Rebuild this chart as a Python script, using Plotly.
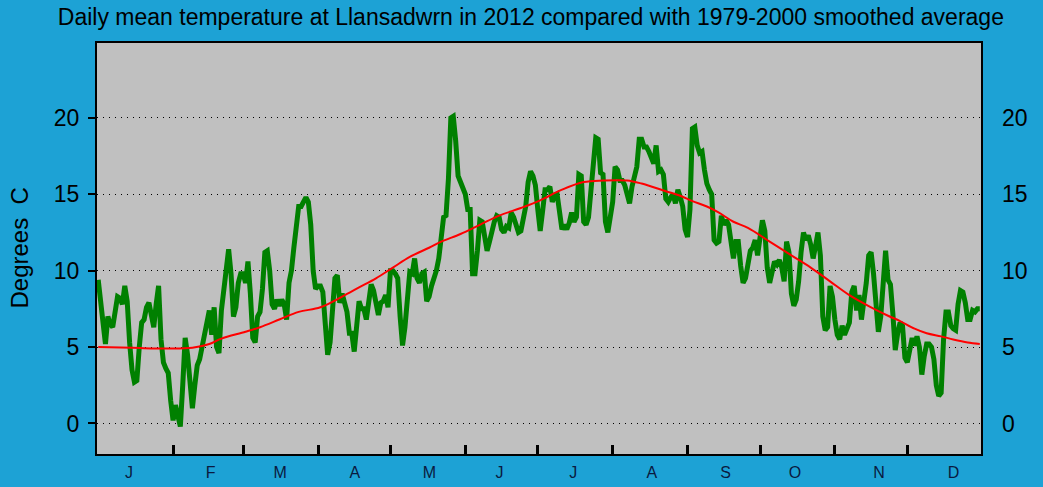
import plotly.graph_objects as go

# ---------------- data ----------------
days = list(range(1, 367))

temps_2012 = [
    # Jan 1 - Feb 16 (d1-47)
    9.4, 8.0, 6.0, 5.2, 7.0, 6.5, 6.3, 7.2, 8.3, 8.2,
    7.8, 9.0, 8.0, 5.3, 3.5, 2.7, 2.8, 5.0, 6.6, 6.8,
    7.6, 7.9, 7.0, 6.3, 7.8, 9.0, 5.5, 4.0, 3.6, 3.3,
    1.5, 0.2, 1.2, 0.5, -0.2, 2.5, 5.6, 4.5, 2.5, 1.0,
    2.5, 3.8, 4.2, 5.0, 6.0, 7.0, 7.4,
    # d48-92
    5.8, 7.6, 5.0, 4.6, 7.4, 8.8, 10.3, 11.4, 9.8, 7.0,
    7.6, 9.2, 9.8, 9.8, 9.2, 10.6, 8.5, 5.6, 5.3, 7.0,
    7.3, 8.8, 11.2, 11.3, 10.0, 7.8, 7.5, 8.1, 7.7, 8.1,
    7.8, 6.8, 9.2, 10.0, 11.5, 13.3, 14.2, 14.2, 14.5, 14.8,
    14.5, 13.0, 10.0, 8.8, 9.0,
    # d93-138
    9.0, 8.6, 6.0, 4.5, 5.3, 7.0, 9.5, 9.7, 7.9, 8.5,
    7.7, 7.3, 5.9, 5.9, 4.7, 6.8, 8.0, 7.5, 7.5, 6.8,
    8.0, 9.1, 8.7, 7.8, 7.1, 7.9, 8.0, 8.4, 7.6, 10.0,
    10.0, 9.8, 9.5, 7.0, 5.1, 6.3, 8.5, 9.9, 9.8, 10.8,
    9.5, 9.2, 9.8, 9.9, 8.0, 8.3,
    # d139-184
    9.0, 9.4, 10.0, 10.8, 12.0, 13.5, 13.6, 16.0, 20.0, 20.1,
    18.5, 16.2, 15.8, 15.3, 15.0, 14.0, 14.0, 9.8, 9.8, 11.3,
    13.3, 13.2, 12.0, 11.3, 11.9, 12.6, 13.2, 13.6, 13.5, 12.7,
    12.5, 12.9, 12.8, 13.8, 13.5, 13.0, 12.5, 12.6, 13.4, 14.2,
    15.8, 16.5, 16.2, 15.6, 14.0, 12.6,
    # d185-229
    13.9, 15.3, 15.3, 15.5, 14.5, 14.9, 15.0, 14.0, 12.7, 13.0,
    12.7, 13.1, 13.8, 13.2, 13.5, 16.3, 16.2, 13.2, 13.0, 13.5,
    15.3, 17.4, 18.7, 18.6, 16.4, 16.3, 13.2, 12.5, 13.3, 14.5,
    16.8, 16.6, 15.9, 15.9, 15.6, 15.0, 14.4, 15.5, 16.2, 16.8,
    18.6, 18.6, 18.1, 18.1, 17.8,
    # d230-275
    17.4, 17.0, 18.2, 16.5, 16.6, 16.3, 14.7, 14.5, 14.8, 15.0,
    14.4, 15.3, 14.8, 14.2, 12.7, 12.2, 14.0, 19.3, 19.4, 18.2,
    17.7, 17.8, 16.6, 15.7, 15.3, 15.0, 12.0, 11.8, 11.9, 13.6,
    13.0, 13.3, 13.0, 11.6, 10.8, 11.9, 11.9, 10.3, 9.2, 9.5,
    10.5, 11.3, 11.5, 12.0, 11.0, 12.4,
    # d276-320
    13.3, 12.6, 10.2, 9.2, 9.8, 10.6, 10.4, 10.7, 10.2, 9.3,
    11.9, 11.2, 8.5, 7.7, 8.1, 9.3, 11.2, 12.5, 12.0, 12.3,
    11.7, 10.8, 11.6, 12.5, 11.0, 7.0, 6.1, 6.3, 9.0, 8.3,
    6.8, 5.8, 5.5, 6.4, 5.8, 6.3, 6.6, 8.6, 9.0, 7.4,
    8.4, 6.8, 7.8, 9.2, 11.0,
    # d321-366
    11.2, 9.8, 7.6, 6.0, 7.0, 9.6, 11.3, 9.4, 9.1, 7.2,
    4.8, 5.9, 6.6, 6.4, 4.3, 4.0, 5.0, 5.6, 5.1, 5.7,
    5.0, 3.2, 4.4, 5.2, 5.2, 5.0, 4.2, 2.5, 1.8, 2.0,
    5.5, 7.3, 7.3, 6.4, 6.2, 6.1, 7.8, 8.7, 8.6, 7.9,
    6.8, 6.8, 7.4, 7.3, 7.5, 7.5,
]

avg_days = [1, 15, 30, 40, 47, 52, 62, 68, 76, 84, 93, 102, 109, 116, 123,
            130, 138, 143, 151, 159, 167, 176, 184, 193, 202, 210, 220, 226,
            236, 242, 247, 253, 258, 264, 270, 279, 288, 296, 304, 312, 321,
            328, 333, 339, 344, 350, 355, 361, 366]
avg_temps = [5.0, 4.95, 4.9, 4.95, 5.2, 5.55, 6.0, 6.3, 6.8, 7.3, 7.6, 8.3,
             8.9, 9.5, 10.2, 10.9, 11.5, 11.9, 12.4, 13.0, 13.6, 14.1, 14.6,
             15.3, 15.8, 15.9, 15.9, 15.7, 15.2, 14.9, 14.55, 14.2, 13.8,
             13.2, 12.8, 11.9, 11.0, 10.2, 9.3, 8.4, 7.6, 7.05, 6.7, 6.2,
             5.9, 5.7, 5.5, 5.3, 5.2]

month_labels = ["J", "F", "M", "A", "M", "J", "J", "A", "S", "O", "N", "D"]
month_lengths = [31, 29, 31, 30, 31, 30, 31, 31, 30, 31, 30, 31]
y_ticks = [0, 5, 10, 15, 20]

# ---------------- derived positions ----------------
cum = [0]
for n in month_lengths:
    cum.append(cum[-1] + n)
tick_pos = [c + 0.5 for c in cum[1:-1]]
label_pos = [13.3, 47.1, 75.8, 106.8, 137.6, 166.6, 197.2, 229.7, 260.3, 289.0, 323.8, 354.6]

x_daily = [d - 0.5 for d in days]
x_avg = [d - 0.5 for d in avg_days]

FONT = "Arial, Liberation Sans, sans-serif"
BLUE = "#1da2d5"

fig = go.Figure()
fig.add_trace(go.Scatter(x=x_daily, y=temps_2012, mode="lines",
                         line=dict(color="#008000", width=5),
                         showlegend=False, hoverinfo="skip"))
fig.add_trace(go.Scatter(x=x_avg, y=avg_temps, mode="lines",
                         line=dict(color="#ff0000", width=2, shape="spline", smoothing=1.0),
                         showlegend=False, hoverinfo="skip"))
fig.add_trace(go.Scatter(x=[None], y=[None], xaxis="x2", yaxis="y2",
                         showlegend=False, hoverinfo="skip"))

yr = [-2.0, 24.9]
fig.update_layout(
    template="none",
    width=1043, height=487,
    margin=dict(l=97, r=62, t=43, b=33, pad=0, autoexpand=False),
    paper_bgcolor=BLUE, plot_bgcolor="#c0c0c0",
    font=dict(family=FONT, color="black"),
    title=dict(text="Daily mean temperature at Llansadwrn in 2012 compared with 1979-2000 smoothed average",
               x=0.509, xanchor="center", y=1 - 17 / 487, yanchor="middle",
               font=dict(size=23, color="black", family=FONT)),
    xaxis=dict(range=[0, 366], tickvals=tick_pos, ticks="inside", ticklen=9,
               tickwidth=3, tickcolor="black", showticklabels=False,
               showgrid=False, zeroline=False, showline=True, linewidth=2,
               linecolor="black", mirror=True, fixedrange=True, automargin=False),
    xaxis2=dict(range=[0, 366], overlaying="x", anchor="y2", side="bottom",
                tickvals=label_pos, ticktext=month_labels, ticks="",
                showgrid=False, zeroline=False, showline=False, automargin=False,
                tickfont=dict(size=16, color="#0a1a40"), ticklabelstandoff=7),
    yaxis=dict(range=yr, tickvals=y_ticks, ticks="outside", ticklen=7,
               tickwidth=1.5, tickcolor="black", showgrid=True,
               gridcolor="black", gridwidth=1, griddash="1px,5px",
               zeroline=False, showline=True, linewidth=2, linecolor="black",
               mirror=True, tickfont=dict(size=23, color="black"),
               ticklabelstandoff=4, automargin=False),
    yaxis2=dict(range=yr, overlaying="y", anchor="x2", side="right",
                tickvals=y_ticks, ticks="", showgrid=False, zeroline=False,
                showline=False, tickfont=dict(size=23, color="black"),
                ticklabelstandoff=20, automargin=False),
    annotations=[dict(text="Degrees\u00a0\u00a0C", textangle=-90,
                      xref="paper", yref="paper", x=(19 - 97) / 884, y=0.5,
                      xanchor="center", yanchor="middle", showarrow=False,
                      font=dict(size=24, color="black", family=FONT))],
)

fig.write_html("out.html")
